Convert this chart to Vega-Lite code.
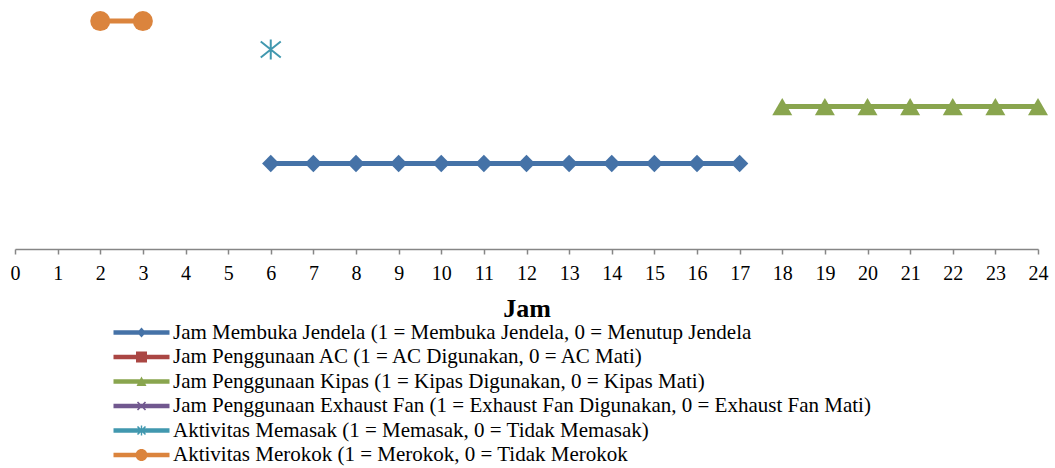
{
  "$schema": "https://vega.github.io/schema/vega-lite/v6.json",
  "autosize": "none",
  "width": 1023,
  "height": 249,
  "padding": {"left": 15, "top": 0, "right": 17, "bottom": 219},
  "background": "white",
  "config": {"view": {"stroke": null}, "font": "Liberation Serif",
    "legend": {"labelFont": "Liberation Serif", "labelFontSize": 21, "labelColor": "#000000"}},
  "data": {"values": [
    {"hour": 6, "value": 1.5, "key": "jendela", "series": "Jam Membuka Jendela (1 = Membuka Jendela, 0 = Menutup Jendela"},
    {"hour": 7, "value": 1.5, "key": "jendela", "series": "Jam Membuka Jendela (1 = Membuka Jendela, 0 = Menutup Jendela"},
    {"hour": 8, "value": 1.5, "key": "jendela", "series": "Jam Membuka Jendela (1 = Membuka Jendela, 0 = Menutup Jendela"},
    {"hour": 9, "value": 1.5, "key": "jendela", "series": "Jam Membuka Jendela (1 = Membuka Jendela, 0 = Menutup Jendela"},
    {"hour": 10, "value": 1.5, "key": "jendela", "series": "Jam Membuka Jendela (1 = Membuka Jendela, 0 = Menutup Jendela"},
    {"hour": 11, "value": 1.5, "key": "jendela", "series": "Jam Membuka Jendela (1 = Membuka Jendela, 0 = Menutup Jendela"},
    {"hour": 12, "value": 1.5, "key": "jendela", "series": "Jam Membuka Jendela (1 = Membuka Jendela, 0 = Menutup Jendela"},
    {"hour": 13, "value": 1.5, "key": "jendela", "series": "Jam Membuka Jendela (1 = Membuka Jendela, 0 = Menutup Jendela"},
    {"hour": 14, "value": 1.5, "key": "jendela", "series": "Jam Membuka Jendela (1 = Membuka Jendela, 0 = Menutup Jendela"},
    {"hour": 15, "value": 1.5, "key": "jendela", "series": "Jam Membuka Jendela (1 = Membuka Jendela, 0 = Menutup Jendela"},
    {"hour": 16, "value": 1.5, "key": "jendela", "series": "Jam Membuka Jendela (1 = Membuka Jendela, 0 = Menutup Jendela"},
    {"hour": 17, "value": 1.5, "key": "jendela", "series": "Jam Membuka Jendela (1 = Membuka Jendela, 0 = Menutup Jendela"},
    {"hour": 18, "value": 2.5, "key": "kipas", "series": "Jam Penggunaan Kipas (1 = Kipas Digunakan, 0 = Kipas Mati)"},
    {"hour": 19, "value": 2.5, "key": "kipas", "series": "Jam Penggunaan Kipas (1 = Kipas Digunakan, 0 = Kipas Mati)"},
    {"hour": 20, "value": 2.5, "key": "kipas", "series": "Jam Penggunaan Kipas (1 = Kipas Digunakan, 0 = Kipas Mati)"},
    {"hour": 21, "value": 2.5, "key": "kipas", "series": "Jam Penggunaan Kipas (1 = Kipas Digunakan, 0 = Kipas Mati)"},
    {"hour": 22, "value": 2.5, "key": "kipas", "series": "Jam Penggunaan Kipas (1 = Kipas Digunakan, 0 = Kipas Mati)"},
    {"hour": 23, "value": 2.5, "key": "kipas", "series": "Jam Penggunaan Kipas (1 = Kipas Digunakan, 0 = Kipas Mati)"},
    {"hour": 24, "value": 2.5, "key": "kipas", "series": "Jam Penggunaan Kipas (1 = Kipas Digunakan, 0 = Kipas Mati)"},
    {"hour": 6, "value": 3.5, "key": "memasak", "series": "Aktivitas Memasak (1 = Memasak, 0 = Tidak Memasak)"},
    {"hour": 2, "value": 4, "key": "merokok", "series": "Aktivitas Merokok (1 = Merokok, 0 = Tidak Merokok"},
    {"hour": 3, "value": 4, "key": "merokok", "series": "Aktivitas Merokok (1 = Merokok, 0 = Tidak Merokok"}
  ]},
  "encoding": {
    "x": {"field": "hour", "type": "quantitative",
      "scale": {"domain": [0, 24], "nice": false, "zero": false},
      "axis": {"title": "Jam", "values": [0,1,2,3,4,5,6,7,8,9,10,11,12,13,14,15,16,17,18,19,20,21,22,23,24],
        "grid": false, "domainColor": "#868686", "domainWidth": 1.5, "tickColor": "#868686", "tickWidth": 1.5, "tickSize": 5,
        "labelFont": "Liberation Serif", "labelFontSize": 20, "labelColor": "#000000", "labelPadding": 9,
        "labelFlush": false, "labelOverlap": false,
        "titleFont": "Liberation Serif", "titleFontSize": 26, "titleFontWeight": "bold", "titleColor": "#000000", "titlePadding": 12}},
    "y": {"field": "value", "type": "quantitative", "scale": {"domain": [0, 4.37], "nice": false}, "axis": null}
  },
  "layer": [
    {
      "transform": [{"filter": "false"}],
      "mark": {"type": "point", "filled": true, "opacity": 1},
      "encoding": {
        "fill": {"field": "series", "type": "nominal",
          "scale": {"domain": [
            "Jam Membuka Jendela (1 = Membuka Jendela, 0 = Menutup Jendela",
            "Jam Penggunaan AC (1 = AC Digunakan, 0 = AC Mati)",
            "Jam Penggunaan Kipas (1 = Kipas Digunakan, 0 = Kipas Mati)",
            "Jam Penggunaan Exhaust Fan (1 = Exhaust Fan Digunakan, 0 = Exhaust Fan Mati)",
            "Aktivitas Memasak (1 = Memasak, 0 = Tidak Memasak)",
            "Aktivitas Merokok (1 = Merokok, 0 = Tidak Merokok"],
            "range": ["#4572A7", "#AA4643", "#89A54E", "#71588F", "#4198AF", "#DB843D"]},
          "legend": {"title": null, "orient": "none", "legendX": 116, "legendY": 322, "padding": 0,
            "labelFont": "Liberation Serif", "labelFontSize": 21, "labelColor": "#000000", "labelLimit": 1000,
            "symbolSize": 400, "symbolStrokeWidth": 0, "symbolOpacity": 1, "rowPadding": 2.5, "labelOffset": 21}},
        "shape": {"field": "series", "type": "nominal",
          "scale": {"domain": [
            "Jam Membuka Jendela (1 = Membuka Jendela, 0 = Menutup Jendela",
            "Jam Penggunaan AC (1 = AC Digunakan, 0 = AC Mati)",
            "Jam Penggunaan Kipas (1 = Kipas Digunakan, 0 = Kipas Mati)",
            "Jam Penggunaan Exhaust Fan (1 = Exhaust Fan Digunakan, 0 = Exhaust Fan Mati)",
            "Aktivitas Memasak (1 = Memasak, 0 = Tidak Memasak)",
            "Aktivitas Merokok (1 = Merokok, 0 = Tidak Merokok"],
            "range": [
              "M-2.8,-0.22L2.8,-0.22L2.8,0.22L-2.8,0.22Z M-0.45,0L0,-0.5L0.45,0L0,0.5Z",
              "M-2.8,-0.22L2.8,-0.22L2.8,0.22L-2.8,0.22Z M-0.55,-0.55L0.55,-0.55L0.55,0.55L-0.55,0.55Z",
              "M-2.8,-0.22L2.8,-0.22L2.8,0.22L-2.8,0.22Z M-0.5,0.45L0,-0.5L0.5,0.45Z",
              "M-2.8,-0.22L2.8,-0.22L2.8,0.22L-2.8,0.22Z M-0.343,-0.457L0.457,0.343L0.343,0.457L-0.457,-0.343Z M-0.343,0.457L-0.457,0.343L0.343,-0.457L0.457,-0.343Z",
              "M-2.8,-0.22L2.8,-0.22L2.8,0.22L-2.8,0.22Z M-0.343,-0.457L0.457,0.343L0.343,0.457L-0.457,-0.343Z M-0.343,0.457L-0.457,0.343L0.343,-0.457L0.457,-0.343Z M-0.07,-0.5L0.07,-0.5L0.07,0.5L-0.07,0.5Z",
              "M-2.8,-0.22L2.8,-0.22L2.8,0.22L-2.8,0.22Z M0.6,0A0.6,0.6 0 1,1 -0.6,0A0.6,0.6 0 1,1 0.6,0Z"
            ]}}
      }
    },
    {
      "mark": {"type": "line", "strokeWidth": 5},
      "encoding": {
        "color": {"field": "series", "type": "nominal", "legend": null,
          "scale": {"domain": [
            "Jam Membuka Jendela (1 = Membuka Jendela, 0 = Menutup Jendela",
            "Jam Penggunaan AC (1 = AC Digunakan, 0 = AC Mati)",
            "Jam Penggunaan Kipas (1 = Kipas Digunakan, 0 = Kipas Mati)",
            "Jam Penggunaan Exhaust Fan (1 = Exhaust Fan Digunakan, 0 = Exhaust Fan Mati)",
            "Aktivitas Memasak (1 = Memasak, 0 = Tidak Memasak)",
            "Aktivitas Merokok (1 = Merokok, 0 = Tidak Merokok"],
            "range": ["#4572A7", "#AA4643", "#89A54E", "#71588F", "#4198AF", "#DB843D"]}}
      }
    },
    {
      "transform": [{"filter": "datum.key == 'jendela'"}],
      "mark": {"type": "point", "shape": "diamond", "filled": true, "size": 300, "opacity": 1, "color": "#4572A7"}
    },
    {
      "transform": [{"filter": "datum.key == 'kipas'"}],
      "mark": {"type": "point", "shape": "triangle-up", "filled": true, "size": 400, "opacity": 1, "color": "#89A54E"}
    },
    {
      "transform": [{"filter": "datum.key == 'memasak'"}],
      "mark": {"type": "point", "shape": "M0,-1L0,1M-1,-0.8L1,0.8M-1,0.8L1,-0.8", "filled": false, "strokeWidth": 2, "size": 400, "opacity": 1, "color": "#4198AF"}
    },
    {
      "transform": [{"filter": "datum.key == 'merokok'"}],
      "mark": {"type": "point", "shape": "circle", "filled": true, "size": 400, "opacity": 1, "color": "#DB843D"}
    }
  ]
}
